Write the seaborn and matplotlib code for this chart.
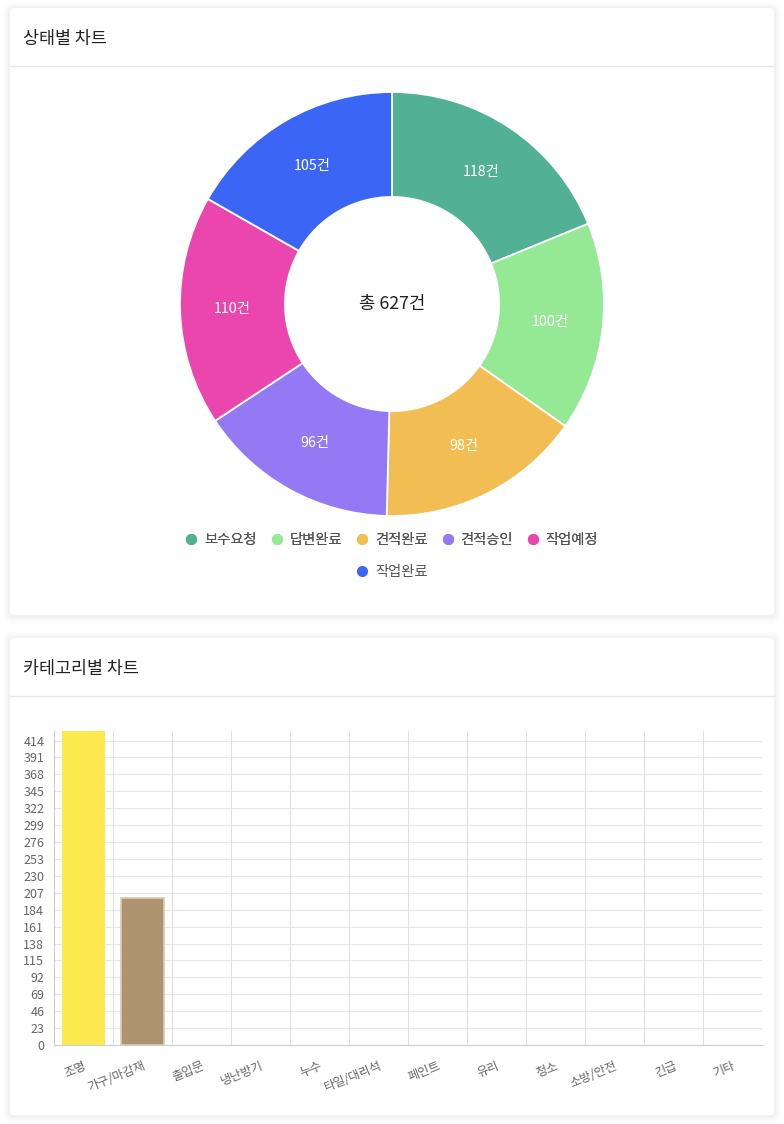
import matplotlib
matplotlib.use("Agg")
import matplotlib.pyplot as plt
import seaborn as sns
import pandas as pd
import numpy as np
from matplotlib.patches import FancyBboxPatch
from matplotlib.lines import Line2D

# ---------------- data ----------------
status_labels = ["보수요청", "답변완료", "견적완료", "견적승인", "작업예정", "작업완료"]
status_values = [118, 100, 98, 96, 110, 105]
status_colors = ["#52b094", "#95e994", "#f2be54", "#9479f5", "#ea46ad", "#3b66f5"]

category_labels = ["조명", "가구/마감재", "출입문", "냉난방기", "누수", "타일/대리석",
                   "페인트", "유리", "청소", "소방/안전", "긴급", "기타"]
category_values = [427, 200, 0, 0, 0, 0, 0, 0, 0, 0, 0, 0]
category_colors = ["#fbe94d", "#ad9370", "#cccccc", "#cccccc", "#cccccc", "#cccccc",
                   "#cccccc", "#cccccc", "#cccccc", "#cccccc", "#cccccc", "#cccccc"]
y_ticks = list(range(0, 415, 23))

sns.set_theme(style="white")
plt.rcParams["font.family"] = ["Noto Sans CJK KR", "DejaVu Sans"]

W, H = 784, 1124
fig = plt.figure(figsize=(W / 100, H / 100), dpi=100)
fig.patch.set_facecolor("white")


def px_axes(x0, y0, x1, y1, **kw):
    return fig.add_axes([x0 / W, 1 - y1 / H, (x1 - x0) / W, (y1 - y0) / H], **kw)


# background / cards
bg = px_axes(0, 0, W, H)
bg.set_xlim(0, W)
bg.set_ylim(H, 0)
bg.axis("off")
bg.set_zorder(-10)

def card(y0, y1, hdr, title):
    for i, a in enumerate([0.018, 0.014, 0.010, 0.006]):
        e = 2 + i * 2
        bg.add_patch(FancyBboxPatch((10 - e, y0 - e + 1), 764 + 2 * e, (y1 - y0) + 2 * e,
                                    boxstyle="round,pad=0,rounding_size=%d" % (4 + e),
                                    fc="black", ec="none", alpha=a))
    bg.add_patch(FancyBboxPatch((10, y0), 764, y1 - y0,
                                boxstyle="round,pad=0,rounding_size=4",
                                fc="white", ec="none"))
    bg.plot([10, 774], [hdr, hdr], color="#e6e6e6", lw=1)
    bg.text(23, (y0 + hdr) / 2 + 2, title, fontsize=12.5, color="#222222",
            va="center", ha="left")

card(8, 615, 66, "상태별 차트")
card(638, 1115, 696, "카테고리별 차트")

# ---------------- donut ----------------
r = 212
cx, cy = 392, 304
pax = px_axes(cx - r, cy - r, cx + r, cy + r)
wedges, _ = pax.pie(status_values, colors=status_colors, startangle=90,
                    counterclock=False, radius=1.0,
                    wedgeprops=dict(width=0.495, edgecolor="white", linewidth=1.3))
pax.set_xlim(-1, 1)
pax.set_ylim(-1, 1)
pax.set_aspect("equal")
pax.axis("off")
total = sum(status_values)
cum = 0
for v in status_values:
    mid = 90 - (cum + v / 2) / total * 360
    cum += v
    rr = 0.752
    pax.text(rr * np.cos(np.radians(mid)), rr * np.sin(np.radians(mid)), f"{v}건",
             color="white", fontsize=10.3, ha="center", va="center")
pax.text(0, 0, f"총 {total}건", fontsize=12.8, color="#222222", ha="center", va="center")

handles = [Line2D([], [], marker="o", ls="none", markersize=7,
                  markerfacecolor=c, markeredgecolor=c) for c in status_colors]
leg1 = fig.legend(handles[:5], status_labels[:5], loc="center",
                  bbox_to_anchor=(cx / W, 1 - 540 / H), ncol=5, frameon=False,
                  fontsize=10.3, handlelength=0.8, handletextpad=0.5, columnspacing=1.0,
                  labelcolor="#555555")
leg2 = fig.legend(handles[5:], status_labels[5:], loc="center",
                  bbox_to_anchor=(cx / W, 1 - 572 / H), ncol=1, frameon=False,
                  fontsize=10.3, handlelength=0.8, handletextpad=0.5,
                  labelcolor="#555555")
fig.add_artist(leg1)

# ---------------- bar chart ----------------
bax = px_axes(54, 731, 762, 1045)
df = pd.DataFrame({"category": category_labels, "count": category_values})
sns.barplot(data=df, x="category", y="count", hue="category", palette=category_colors,
            legend=False, width=0.72, ax=bax, saturation=1, linewidth=1.2,
            edgecolor="none")
for p, c in zip(bax.patches, category_colors):
    if c == "#ad9370":
        p.set_edgecolor("#ddccb0")
bax.set_ylim(0, 427)
bax.set_xlim(-0.5, len(category_labels) - 0.5)
bax.set_yticks(y_ticks)
bax.set_yticklabels([str(t) for t in y_ticks], fontsize=9, color="#666666")
bax.set_xlabel("")
bax.set_ylabel("")
bax.grid(False)
for t in y_ticks:
    bax.axhline(t, color="#e6e6e6", lw=0.8, zorder=0)
for i in range(1, len(category_labels) + 1):
    bax.axvline(i - 0.5, color="#e0e0e0", lw=0.8, zorder=0)
for s in ["top", "right"]:
    bax.spines[s].set_visible(False)
bax.spines["left"].set_color("#cccccc")
bax.spines["bottom"].set_color("#cccccc")
bax.spines["left"].set_linewidth(0.8)
bax.spines["bottom"].set_linewidth(0.8)
bax.tick_params(axis="y", length=0, pad=7)
bax.set_xticks(range(len(category_labels)))
bax.set_xticklabels(category_labels, rotation=22, ha="right", rotation_mode="anchor",
                    fontsize=8.8, color="#666666")
bax.tick_params(axis="x", length=0, pad=10)
bax.set_xticks([i - 0.5 for i in range(len(category_labels) + 1)], minor=True)
bax.tick_params(axis="x", which="minor", length=7, color="#e0e0e0", width=0.8)
bax.patch.set_alpha(0)

fig.savefig("out.png", dpi=100, facecolor="white")
